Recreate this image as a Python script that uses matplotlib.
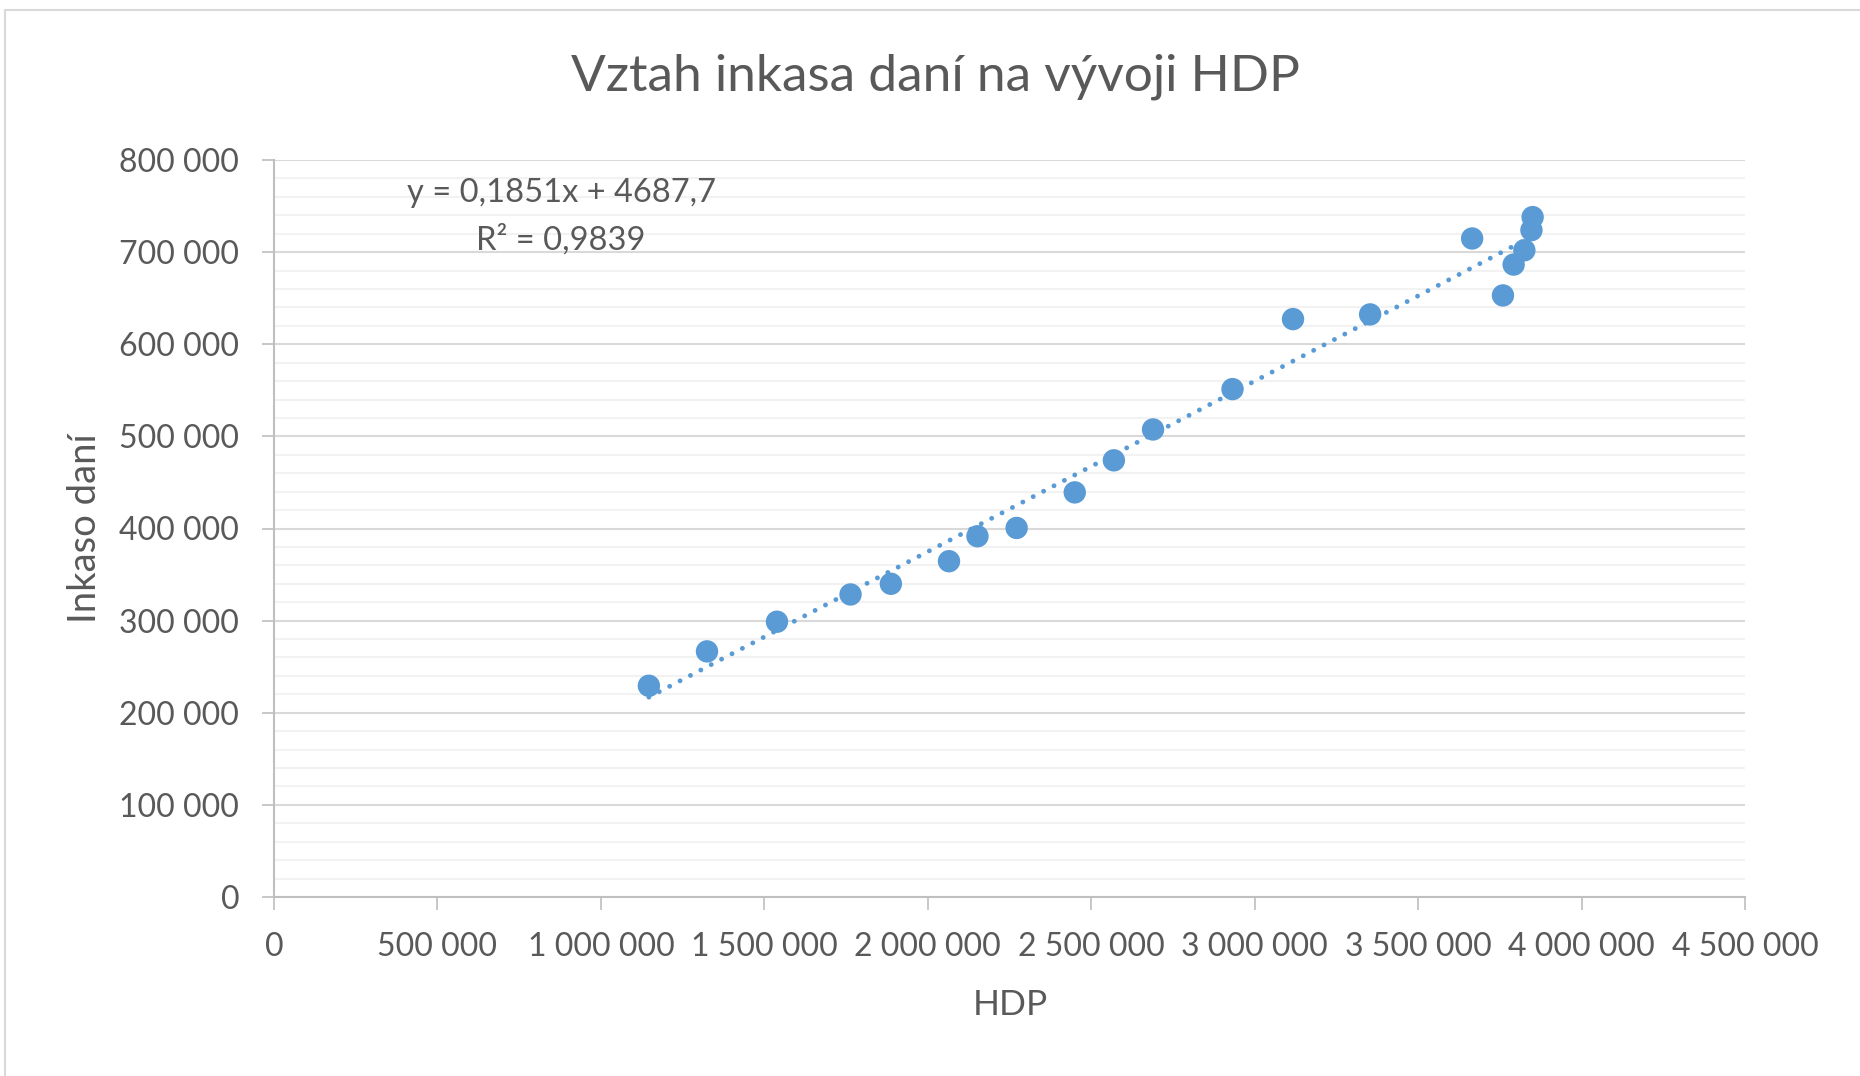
# coding=utf-8
import numpy as np
import matplotlib
matplotlib.use("Agg")
import matplotlib.pyplot as plt
from matplotlib.ticker import MultipleLocator, FuncFormatter
import matplotlib.patches as mpatches

plt.rcParams['font.family'] = ['Lato', 'DejaVu Sans']

# HDP vs tax collection
hdp = [1146800, 1324600, 1538700, 1763700, 1887100, 2064900, 2152000, 2271800,
       2449600, 2569300, 2689100, 2932200, 3117300, 3353200, 3665300, 3759600,
       3792300, 3825000, 3846700, 3850300]
inkaso = [229300, 266600, 298800, 328400, 340000, 364500, 391600, 400600,
          439200, 474000, 507500, 551300, 627300, 632400, 714800, 653000,
          686500, 702000, 723900, 738000]
trend_slope = 0.1851
trend_intercept = 4687.7
eq_text = "y = 0,1851x + 4687,7"
r2_text = "R² = 0,9839"

blue = "#5B9BD5"
grey_txt = "#595959"

fig = plt.figure(figsize=(18.6, 10.76), dpi=100)
ax = fig.add_axes([274/1860, 179/1076, 1471/1860, 737/1076])

# chart area border
fig.patches.append(mpatches.Rectangle((5/1860, -0.01), 1.0, (1076-10)/1076 + 0.01,
                                      transform=fig.transFigure, fill=False,
                                      edgecolor="#D9D9D9", linewidth=1.5))

xs = np.array([min(hdp), max(hdp)])
ax.plot(xs, trend_slope*xs + trend_intercept, color=blue, linewidth=3.5,
        linestyle=(0, (0.01, 2.4)), dash_capstyle='round', zorder=2)
ax.scatter(hdp, inkaso, s=260, color=blue, edgecolors='none', zorder=3)

ax.set_xlim(0, 4500000)
ax.set_ylim(0, 800000)
ax.xaxis.set_major_locator(MultipleLocator(500000))
ax.yaxis.set_major_locator(MultipleLocator(100000))
ax.yaxis.set_minor_locator(MultipleLocator(20000))
fmt = FuncFormatter(lambda v, p: f"{int(v):,}".replace(",", " "))
ax.xaxis.set_major_formatter(fmt)
ax.yaxis.set_major_formatter(fmt)

ax.grid(which='major', axis='y', color="#D9D9D9", linewidth=1.5, zorder=0)
ax.grid(which='minor', axis='y', color="#F2F2F2", linewidth=1.5, zorder=0)
ax.set_axisbelow(True)
for s in ['top', 'right']:
    ax.spines[s].set_visible(False)
for s in ['left', 'bottom']:
    ax.spines[s].set_color("#BFBFBF")
    ax.spines[s].set_linewidth(1.5)
ax.tick_params(which='major', length=9, width=1.2, color="#BFBFBF",
               labelsize=23, labelcolor=grey_txt, pad=16)
ax.tick_params(which='minor', length=0)

ax.set_xlabel("HDP", fontsize=25.5, color=grey_txt, va='center')
ax.xaxis.set_label_coords(0.5003, -0.1465)
ax.set_ylabel("Inkaso daní", fontsize=27.5, color=grey_txt, va='center')
ax.yaxis.set_label_coords(-0.1285, 0.5007)

fig.text(935/1860, 1 - 77/1076, "Vztah inkasa daní na vývoji HDP", fontsize=37,
         color=grey_txt, ha='center', va='center')
fig.text(561/1860, 1 - 193/1076, eq_text, fontsize=23.5, color=grey_txt,
         ha='center', va='center')
fig.text(561/1860, 1 - 240/1076, r2_text, fontsize=23.5, color=grey_txt,
         ha='center', va='center')

fig.savefig("out.png", dpi=100)
